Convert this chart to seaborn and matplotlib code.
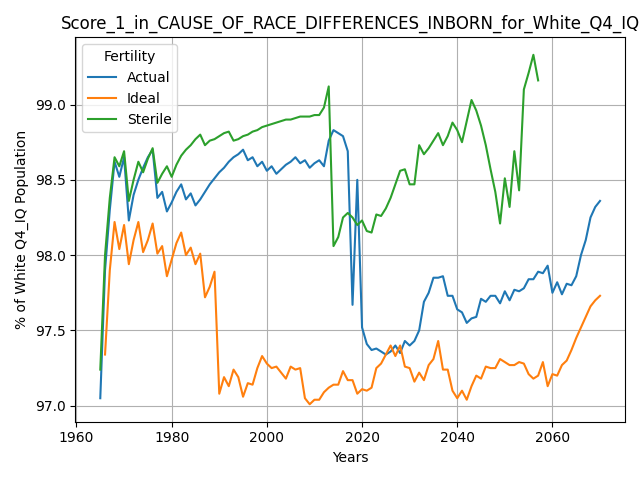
import numpy as np
import pandas as pd
import matplotlib
matplotlib.use("Agg")
import matplotlib.pyplot as plt
import seaborn as sns

actual_years = list(range(1965, 2071))
actual = [97.05, 97.9, 98.3, 98.62, 98.52, 98.65, 98.23, 98.4, 98.5, 98.58,
          98.65, 98.7, 98.38, 98.42, 98.29, 98.35, 98.42, 98.47, 98.37, 98.41,
          98.33, 98.37, 98.42, 98.47, 98.51, 98.55, 98.58, 98.62, 98.65, 98.67,
          98.70, 98.63, 98.65, 98.59, 98.62, 98.56, 98.59, 98.54, 98.57, 98.6,
          98.62, 98.65, 98.61, 98.63, 98.58, 98.61, 98.63, 98.59, 98.76, 98.83,
          98.81, 98.79, 98.69, 97.67, 98.50, 97.52, 97.41, 97.37, 97.38, 97.36,
          97.34, 97.36, 97.40, 97.35, 97.43, 97.40, 97.43, 97.50, 97.69, 97.75,
          97.85, 97.85, 97.86, 97.73, 97.73, 97.64, 97.62, 97.55, 97.58, 97.59,
          97.71, 97.69, 97.73, 97.73, 97.68, 97.76, 97.70, 97.77, 97.76, 97.78,
          97.84, 97.84, 97.89, 97.88, 97.93, 97.75, 97.82, 97.74, 97.81, 97.80,
          97.86, 98.0, 98.1, 98.25, 98.32, 98.36]

ideal_years = list(range(1966, 2071))
ideal = [97.34, 97.9, 98.22, 98.04, 98.2, 97.94, 98.1, 98.22, 98.02, 98.1,
         98.21, 98.01, 98.06, 97.86, 97.97, 98.08, 98.15, 98.0, 98.05, 97.94,
         98.01, 97.72, 97.79, 97.89, 97.08, 97.19, 97.13, 97.24, 97.19, 97.06,
         97.15, 97.14, 97.25, 97.33, 97.28, 97.25, 97.26, 97.22, 97.18, 97.26,
         97.24, 97.25, 97.05, 97.01, 97.04, 97.04, 97.09, 97.12, 97.14, 97.14,
         97.23, 97.17, 97.17, 97.08, 97.11, 97.10, 97.12, 97.25, 97.28, 97.34,
         97.40, 97.33, 97.40, 97.26, 97.25, 97.16, 97.22, 97.17, 97.27, 97.31,
         97.43, 97.24, 97.24, 97.10, 97.05, 97.10, 97.04, 97.13, 97.20, 97.18,
         97.26, 97.25, 97.25, 97.31, 97.29, 97.27, 97.27, 97.29, 97.28, 97.21,
         97.18, 97.20, 97.29, 97.13, 97.21, 97.20, 97.27, 97.30, 97.37, 97.45,
         97.52, 97.59, 97.66, 97.70, 97.73]

sterile_years = list(range(1965, 2058))
sterile = [97.24, 98.0, 98.38, 98.65, 98.59, 98.69, 98.36, 98.5, 98.62, 98.55,
           98.64, 98.71, 98.48, 98.54, 98.59, 98.52, 98.6, 98.66, 98.7, 98.73,
           98.77, 98.8, 98.73, 98.76, 98.77, 98.79, 98.81, 98.82, 98.76, 98.77,
           98.79, 98.8, 98.82, 98.83, 98.85, 98.86, 98.87, 98.88, 98.89, 98.90,
           98.9, 98.91, 98.92, 98.92, 98.92, 98.93, 98.93, 98.98, 99.12, 98.06,
           98.12, 98.25, 98.28, 98.25, 98.2, 98.23, 98.16, 98.15, 98.27, 98.26,
           98.31, 98.38, 98.47, 98.56, 98.57, 98.47, 98.47, 98.73, 98.67, 98.71,
           98.76, 98.81, 98.73, 98.79, 98.88, 98.83, 98.75, 98.89, 99.03, 98.96,
           98.86, 98.73, 98.57, 98.42, 98.21, 98.51, 98.32, 98.69, 98.43, 99.1,
           99.21, 99.33, 99.16]

df = pd.concat([
    pd.DataFrame({"Years": actual_years, "value": actual, "Fertility": "Actual"}),
    pd.DataFrame({"Years": ideal_years, "value": ideal, "Fertility": "Ideal"}),
    pd.DataFrame({"Years": sterile_years, "value": sterile, "Fertility": "Sterile"}),
])

fig, ax = plt.subplots(figsize=(6.4, 4.8), dpi=100)
sns.lineplot(data=df, x="Years", y="value", hue="Fertility",
             palette=["#1f77b4", "#ff7f0e", "#2ca02c"], ax=ax)
ax.grid(True, color="#b0b0b0")
ax.set_axisbelow(True)
ax.set_title("Score_1_in_CAUSE_OF_RACE_DIFFERENCES_INBORN_for_White_Q4_IQ")
ax.set_xlabel("Years")
ax.set_ylabel("% of White Q4_IQ Population")
ax.legend(title="Fertility", loc="upper left")
plt.tight_layout()
plt.savefig("out.png", dpi=100)
